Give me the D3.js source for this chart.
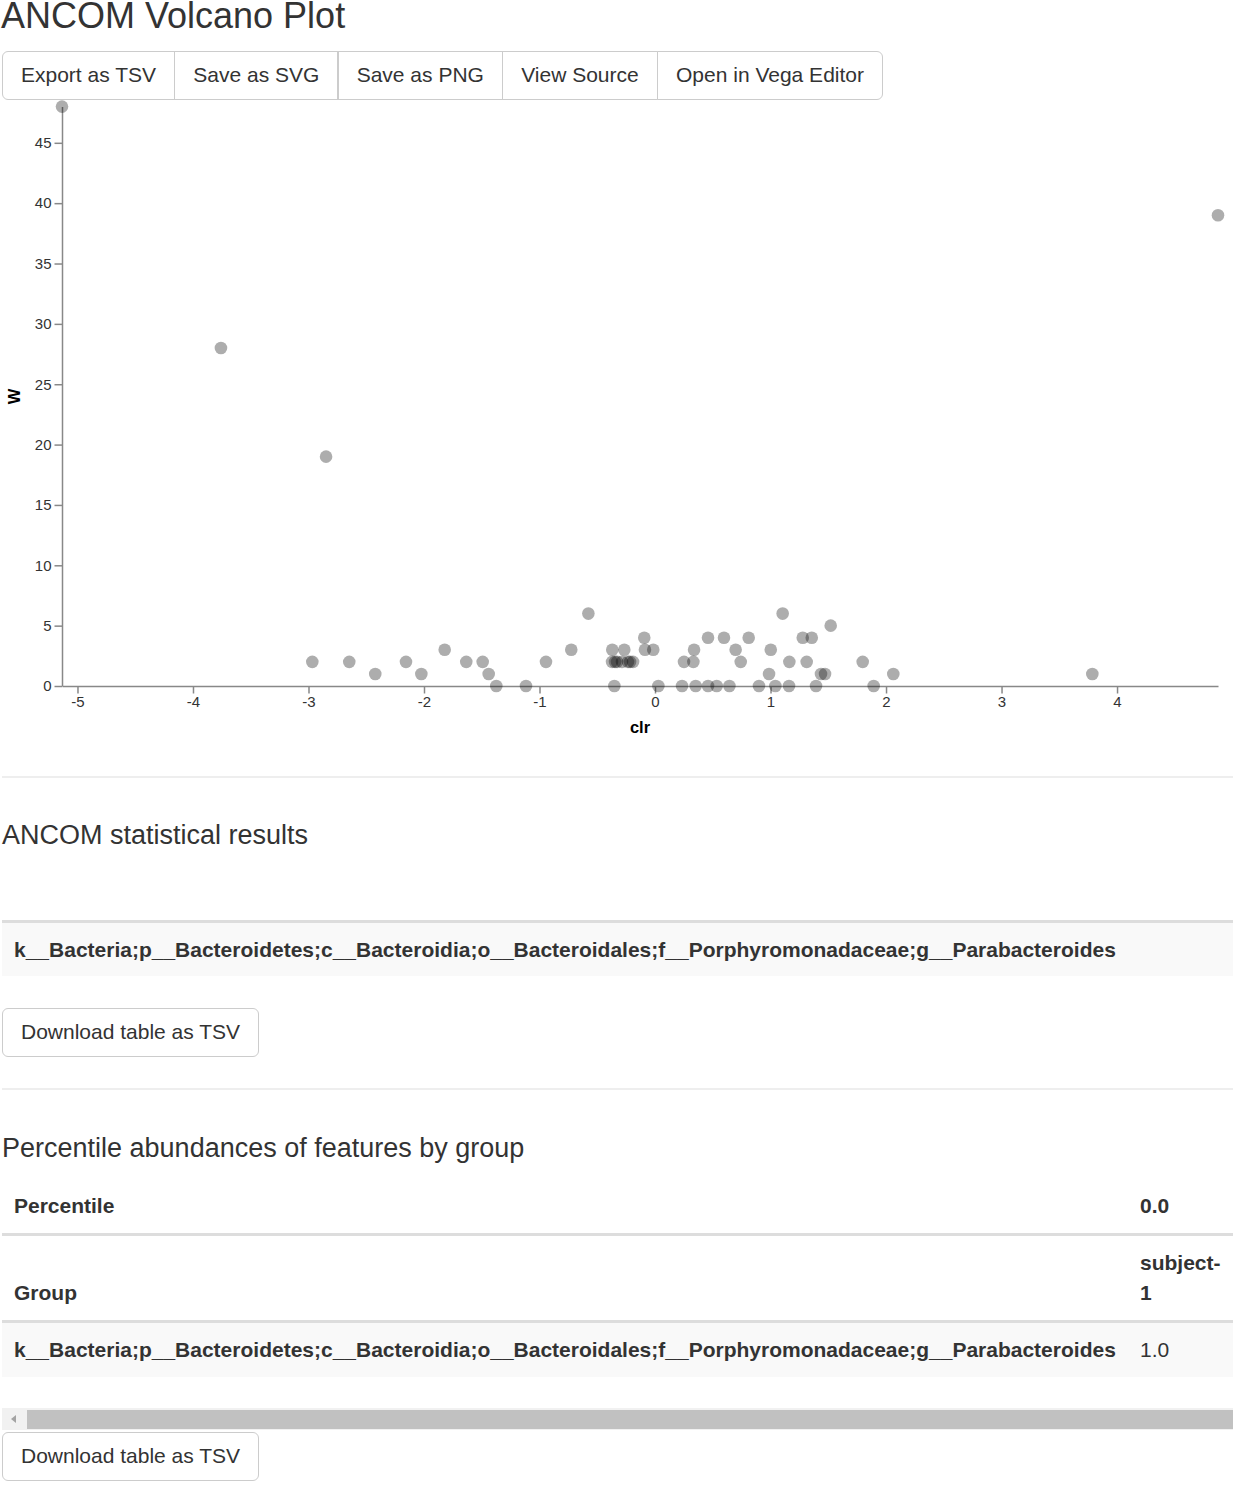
<!DOCTYPE html>
<html>
<head>
<meta charset="utf-8">
<script src="https://cdn.jsdelivr.net/npm/d3@7"></script>
<style>
  html, body { margin: 0; padding: 0; background: #fff; }
  body { width: 1233px; height: 1488px; position: relative; overflow: hidden;
         font-family: "Liberation Sans", Arial, Helvetica, sans-serif; color: #333; }
  .abs { position: absolute; white-space: nowrap; }
  .btn { position: absolute; box-sizing: border-box; height: 49px; border: 1.5px solid #ccc;
         background: #fff; font-size: 21px; line-height: 46px; padding: 0 18px; color: #333; white-space: nowrap; }
  .hr { position: absolute; left: 2px; width: 1231px; height: 1.5px; background: #eee; }
  .rule { position: absolute; left: 2px; width: 1231px; height: 3px; background: #ddd; }
  .stripe { position: absolute; left: 2px; width: 1231px; background: #f9f9f9; }
  svg { position: absolute; left: 0; top: 0; }
</style>
</head>
<body>
<script>
// ---------- data ----------
const pageTitle = "ANCOM Volcano Plot";
const exportButtons = ["Export as TSV", "Save as SVG", "Save as PNG", "View Source", "Open in Vega Editor"];
const xTitle = "clr";
const yTitle = "W";
const xTicks = [-5, -4, -3, -2, -1, 0, 1, 2, 3, 4];
const yTicks = [0, 5, 10, 15, 20, 25, 30, 35, 40, 45];
const clr = [
  -5.134, -3.758, -2.848, 4.874,
  -2.967, -2.647, -2.422, -2.156, -2.023, -1.821, -1.634, -1.492, -1.440, -1.374,
  -1.117, -0.944, -0.725, -0.577, -0.370, -0.266,
  -0.372, -0.346, -0.329, -0.286, -0.234, -0.216, -0.190,
  -0.352, -0.093, -0.087, -0.015, 0.029, 0.251, 0.332, 0.338, 0.234, 0.352,
  0.459, 0.534, 0.459, 0.597, 0.644, 0.698, 0.742, 0.811, 0.900, 0.987, 1.002,
  1.042, 1.105, 1.163, 1.160, 1.279, 1.357, 1.313, 1.394, 1.437, 1.472, 1.521,
  1.798, 1.893, 2.063, 3.786
];
const W = [
  48, 28, 19, 39,
  2, 2, 1, 2, 1, 3, 2, 2, 1, 0,
  0, 2, 3, 6, 3, 3,
  2, 2, 2, 2, 2, 2, 2,
  0, 4, 3, 3, 0, 2, 2, 3, 0, 0,
  0, 0, 4, 4, 0, 3, 2, 4, 0, 1, 3,
  0, 6, 2, 0, 4, 4, 2, 0, 1, 1, 5,
  2, 0, 1, 1
];
const statsTitle = "ANCOM statistical results";
const featureName = "k__Bacteria;p__Bacteroidetes;c__Bacteroidia;o__Bacteroidales;f__Porphyromonadaceae;g__Parabacteroides";
const downloadLabel = "Download table as TSV";
const percTitle = "Percentile abundances of features by group";
const percentileHeader = ["Percentile", "0.0"];
const groupHeader = ["Group", "subject-", "1"];
const percentileValues = ["1.0"];

// ---------- page ----------
const body = d3.select("body");

const svg = body.append("svg").attr("width", 1233).attr("height", 760);
const x = d3.scaleLinear().domain(d3.extent(clr)).range([62, 1218]);
const y = d3.scaleLinear().domain([0, d3.max(W)]).range([686, 106.6]);

const axisFont = "'Liberation Sans', Arial, sans-serif";
const gx = svg.append("g").attr("transform", "translate(0,686)")
  .call(d3.axisBottom(x).tickValues(xTicks).tickFormat(d => String(d)).tickSize(7.5).tickSizeOuter(0).tickPadding(3));
const gy = svg.append("g").attr("transform", "translate(62,0)")
  .call(d3.axisLeft(y).tickValues(yTicks).tickFormat(d => String(d)).tickSize(7.5).tickSizeOuter(0).tickPadding(3));
[gx, gy].forEach(g => {
  g.select(".domain").attr("stroke", "#888").attr("stroke-width", 1.5);
  g.selectAll(".tick line").attr("stroke", "#888").attr("stroke-width", 1.5);
  g.selectAll(".tick text").attr("fill", "#333").style("font-size", "15px").style("font-family", axisFont);
});

svg.append("text").attr("x", 640).attr("y", 733).attr("text-anchor", "middle")
  .style("font-family", axisFont).style("font-size", "16.5px").style("font-weight", "bold")
  .attr("fill", "#000").text(xTitle);
svg.append("text").attr("transform", "translate(20,396.5) rotate(-90)").attr("text-anchor", "middle")
  .style("font-family", axisFont).style("font-size", "16.5px").style("font-weight", "bold")
  .attr("fill", "#000").text(yTitle);

const pts = clr.map((c, i) => ({ c, w: W[i] }));
svg.append("g").selectAll("circle").data(pts).join("circle")
  .attr("cx", d => x(d.c)).attr("cy", d => y(d.w)).attr("r", 6.3)
  .attr("fill", "#000").attr("fill-opacity", 0.32);

// title
body.append("div").attr("class", "abs").style("left", "1px").style("top", "0px")
  .style("font-size", "36px").style("line-height", "31px").text(pageTitle);

// button group
let bx = 2;
exportButtons.forEach((label, i) => {
  const b = body.append("div").attr("class", "btn").style("left", bx + "px").style("top", "51px").text(label);
  const w = b.node().getBoundingClientRect().width;
  if (i === 0) b.style("border-radius", "6px 0 0 6px");
  if (i === exportButtons.length - 1) b.style("border-radius", "0 6px 6px 0");
  bx += w - 0.7;
});

// hr 1
body.append("div").attr("class", "hr").style("top", "776px");

// stats heading
body.append("div").attr("class", "abs").style("left", "2px").style("top", "822px")
  .style("font-size", "27px").style("line-height", "27px").text(statsTitle);

// stats table
body.append("div").attr("class", "rule").style("top", "920px");
body.append("div").attr("class", "stripe").style("top", "923px").style("height", "53px");
body.append("div").attr("class", "abs").style("left", "14px").style("top", "923px")
  .style("font-size", "21px").style("line-height", "53px").style("font-weight", "bold").text(featureName);

body.append("div").attr("class", "btn").style("left", "2px").style("top", "1008px")
  .style("border-radius", "6px").text(downloadLabel);

// hr 2
body.append("div").attr("class", "hr").style("top", "1088px");

// percentile heading
body.append("div").attr("class", "abs").style("left", "2px").style("top", "1135px")
  .style("font-size", "27px").style("line-height", "27px").text(percTitle);

// percentile table
const cell = (txt, left, top, lh, bold) => body.append("div").attr("class", "abs")
  .style("left", left + "px").style("top", top + "px").style("font-size", "21px")
  .style("line-height", lh + "px").style("font-weight", bold ? "bold" : "normal").text(txt);

cell(percentileHeader[0], 14, 1179, 54, true);
cell(percentileHeader[1], 1140, 1179, 54, true);
body.append("div").attr("class", "rule").style("top", "1233px");
cell(groupHeader[0], 14, 1278, 30, true);
cell(groupHeader[1], 1140, 1248, 30, true);
cell(groupHeader[2], 1140, 1278, 30, true);
body.append("div").attr("class", "rule").style("top", "1320px");
body.append("div").attr("class", "stripe").style("top", "1323px").style("height", "54px");
cell(featureName, 14, 1323, 54, true);
cell(percentileValues[0], 1140, 1323, 54, false);

// horizontal scrollbar
body.append("div").style("position", "absolute").style("left", "2px").style("top", "1408px")
  .style("width", "1231px").style("height", "22px").style("background", "#f1f1f1");
body.append("div").style("position", "absolute").style("left", "27px").style("top", "1410px")
  .style("width", "1206px").style("height", "19px").style("background", "#c1c1c1");
const arrow = body.append("svg").style("left", "8px").style("top", "1413px").attr("width", 12).attr("height", 12);
arrow.append("path").attr("d", "M3,6 L8,2 L8,10 Z").attr("fill", "#a3a3a3");

body.append("div").attr("class", "btn").style("left", "2px").style("top", "1432px")
  .style("border-radius", "6px").text(downloadLabel);
</script>
</body>
</html>
